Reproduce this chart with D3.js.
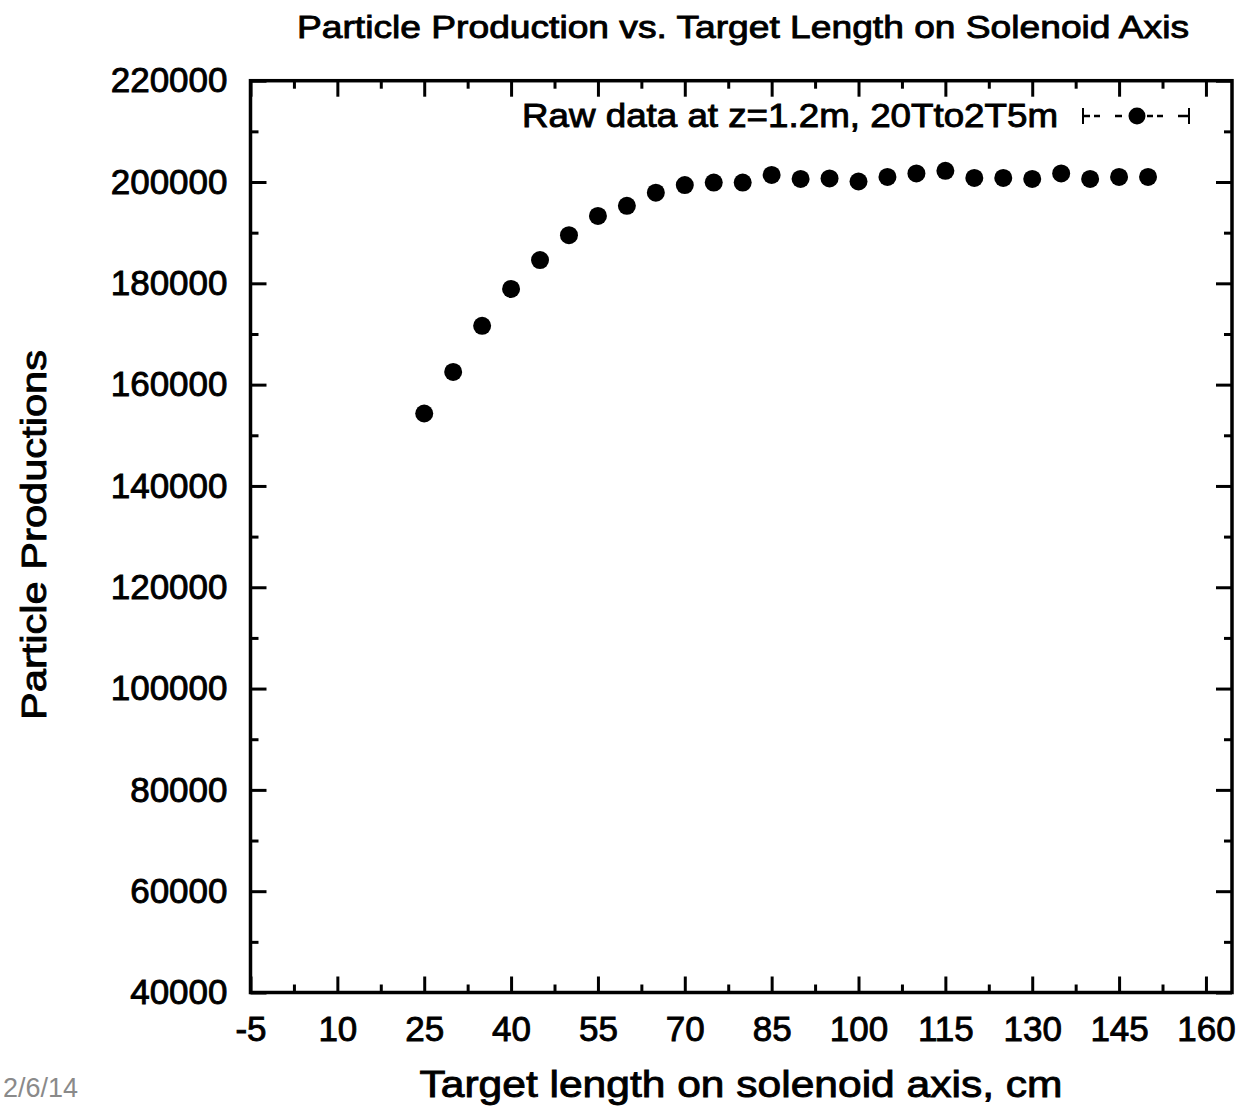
<!DOCTYPE html>
<html>
<head>
<meta charset="utf-8">
<script src="https://cdn.jsdelivr.net/npm/d3@7"></script>
<style>
  html, body { margin: 0; padding: 0; background: #fff; overflow: hidden; }
  svg { display: block; }
  text { font-family: "Liberation Sans", Arial, Helvetica, sans-serif; fill: #000; }
</style>
</head>
<body>
<script>
// ---- data ----
const targetLength = [25, 30, 35, 40, 45, 50, 55, 60, 65, 70, 75, 80, 85, 90, 95, 100, 105, 110, 115, 120, 125, 130, 135, 140, 145, 150];
const particleCount = [154300, 162500, 171600, 178900, 184600, 189500, 193300, 195300, 197900, 199400, 199900, 199900, 201400, 200600, 200700, 200100, 201000, 201700, 202200, 200800, 200800, 200600, 201700, 200600, 201000, 201000];
const xTickValues = [-5, 10, 25, 40, 55, 70, 85, 100, 115, 130, 145, 160];
const xMinorTicks = [2.5, 17.5, 32.5, 47.5, 62.5, 77.5, 92.5, 107.5, 122.5, 137.5, 152.5];
const yTickValues = [40000, 60000, 80000, 100000, 120000, 140000, 160000, 180000, 200000, 220000];
const yMinorTicks = [50000, 70000, 90000, 110000, 130000, 150000, 170000, 190000, 210000];
const titleText = "Particle Production vs. Target Length on Solenoid Axis";
const xLabelText = "Target length on solenoid axis, cm";
const yLabelText = "Particle Productions";
const legendText = "Raw data at z=1.2m, 20Tto2T5m";
const dateText = "2/6/14";

(function () {
const W = 1243, H = 1107;
const plotL = 250.5, plotR = 1232, plotT = 80.7, plotB = 992.5;

const svg = d3.select("body").append("svg").attr("width", W).attr("height", H);

const x = d3.scaleLinear().domain([-5, 164.5]).range([plotL, plotR]);
const y = d3.scaleLinear().domain([40000, 220000]).range([plotB, plotT]);
const plainFmt = d => String(d);

function styleAxis(g, sw) {
  g.select(".domain").remove();
  g.selectAll(".tick line").attr("stroke", "#000").attr("stroke-width", sw);
  g.selectAll(".tick text").attr("font-size", 35).attr("fill", "#000")
    .attr("stroke", "#000").attr("stroke-width", 0.9)
    .attr("font-family", "'Liberation Sans', Arial, Helvetica, sans-serif");
}

svg.append("g").attr("transform", `translate(${plotL},0)`)
  .call(d3.axisLeft(y).tickValues(yTickValues).tickSize(-16).tickPadding(23).tickFormat(plainFmt))
  .call(g => styleAxis(g, 3));
svg.append("g").attr("transform", `translate(${plotL},0)`)
  .call(d3.axisLeft(y).tickValues(yMinorTicks).tickSize(-8).tickFormat(""))
  .call(g => styleAxis(g, 3));
svg.append("g").attr("transform", `translate(${plotR},0)`)
  .call(d3.axisRight(y).tickValues(yTickValues).tickSize(-16).tickFormat(""))
  .call(g => styleAxis(g, 3));
svg.append("g").attr("transform", `translate(${plotR},0)`)
  .call(d3.axisRight(y).tickValues(yMinorTicks).tickSize(-8).tickFormat(""))
  .call(g => styleAxis(g, 3));

svg.append("g").attr("transform", `translate(0,${plotB})`)
  .call(d3.axisBottom(x).tickValues(xTickValues).tickSize(-16).tickPadding(24).tickFormat(plainFmt))
  .call(g => styleAxis(g, 3));
svg.append("g").attr("transform", `translate(0,${plotB})`)
  .call(d3.axisBottom(x).tickValues(xMinorTicks).tickSize(-8).tickFormat(""))
  .call(g => styleAxis(g, 3));
svg.append("g").attr("transform", `translate(0,${plotT})`)
  .call(d3.axisTop(x).tickValues(xTickValues).tickSize(-16).tickFormat(""))
  .call(g => styleAxis(g, 3));
svg.append("g").attr("transform", `translate(0,${plotT})`)
  .call(d3.axisTop(x).tickValues(xMinorTicks).tickSize(-8).tickFormat(""))
  .call(g => styleAxis(g, 3));

svg.append("rect")
  .attr("x", plotL).attr("y", plotT)
  .attr("width", plotR - plotL).attr("height", plotB - plotT)
  .attr("fill", "none").attr("stroke", "#000").attr("stroke-width", 3.5);

svg.append("g").selectAll("circle")
  .data(targetLength.map((t, i) => [t, particleCount[i]]))
  .join("circle")
  .attr("cx", d => x(d[0]))
  .attr("cy", d => y(d[1]))
  .attr("r", 9)
  .attr("fill", "#000");

svg.append("text")
  .attr("x", 297).attr("y", 38)
  .attr("font-size", 32)
  .attr("textLength", 892).attr("lengthAdjust", "spacingAndGlyphs")
  .attr("stroke", "#000").attr("stroke-width", 0.9)
  .text(titleText);

svg.append("text")
  .attr("transform", "translate(46,535) rotate(-90)")
  .attr("text-anchor", "middle")
  .attr("font-size", 35)
  .attr("textLength", 370).attr("lengthAdjust", "spacingAndGlyphs")
  .attr("stroke", "#000").attr("stroke-width", 0.9)
  .text(yLabelText);

svg.append("text")
  .attr("x", 741).attr("y", 1097)
  .attr("text-anchor", "middle")
  .attr("font-size", 37)
  .attr("textLength", 643).attr("lengthAdjust", "spacingAndGlyphs")
  .attr("stroke", "#000").attr("stroke-width", 0.9)
  .text(xLabelText);

const lg = svg.append("g");
lg.append("text")
  .attr("x", 1058).attr("y", 127)
  .attr("text-anchor", "end")
  .attr("font-size", 33)
  .attr("textLength", 536).attr("lengthAdjust", "spacingAndGlyphs")
  .attr("stroke", "#000").attr("stroke-width", 0.9)
  .text(legendText);
const ly = 116;
lg.append("line").attr("x1", 1083).attr("x2", 1083).attr("y1", ly - 8).attr("y2", ly + 8)
  .attr("stroke", "#000").attr("stroke-width", 2);
lg.append("line").attr("x1", 1189).attr("x2", 1189).attr("y1", ly - 8).attr("y2", ly + 8)
  .attr("stroke", "#000").attr("stroke-width", 2);
lg.append("path")
  .attr("d", `M1083,${ly}H1090 M1094,${ly}H1100 M1115,${ly}H1122 M1147,${ly}H1153 M1157,${ly}H1163 M1178,${ly}H1189`)
  .attr("stroke", "#000").attr("stroke-width", 2.5).attr("fill", "none");
lg.append("circle").attr("cx", 1137).attr("cy", ly).attr("r", 8.5).attr("fill", "#000");

svg.append("text")
  .attr("x", 3).attr("y", 1097)
  .attr("font-size", 27)
  .attr("font-family", "'Open Sans', 'Noto Sans', sans-serif")
  .style("fill", "#8a8a8a")
  .text(dateText);
})();
</script>
</body>
</html>
